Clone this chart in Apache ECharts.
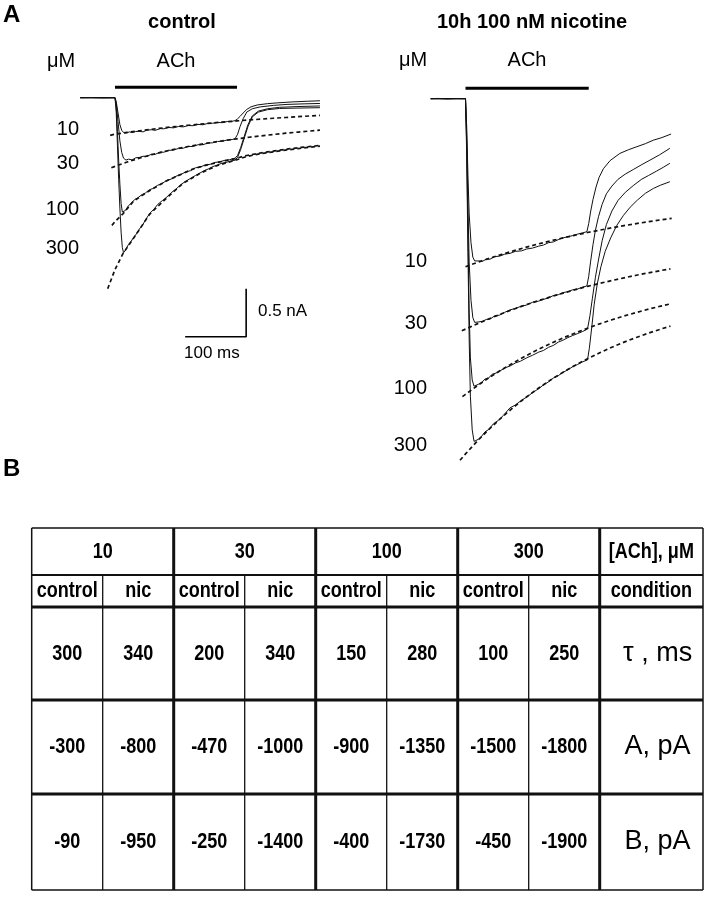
<!DOCTYPE html>
<html><head><meta charset="utf-8">
<script src="https://cdn.jsdelivr.net/npm/echarts@6.0.0/dist/echarts.min.js"></script>
<style>html,body{margin:0;padding:0;background:#fff}#chart{width:711px;height:899px}</style>
</head><body><div id="chart"></div>
<script>
// ---------- Panel A data: time (ms from ACh onset), current (pA) ----------
const achPulse = [[0, 110], [200, 110]];           // ACh application, 200 ms
const scaleBar = [[115, -2490], [215, -2490], [215, -1990]]; // 100 ms / 0.5 nA

const ctlTrace10 = [[-57,0],[-40,2],[-20,-2],[0,0],[2,-40],[5,-160],[8,-280],[11,-340],[14,-362],[18,-368],[24,-356],[28,-364],[34,-352],[40,-350],[46,-356],[52,-338],[60,-334],[66,-340],[74,-322],[80,-324],[88,-310],[96,-314],[104,-300],[112,-304],[120,-290],[128,-292],[136,-278],[144,-282],[152,-268],[160,-266],[168,-258],[176,-260],[184,-248],[192,-246],[197,-238],[201,-220],[205,-195],[210,-160],[216,-122],[223,-95],[233,-76],[250,-62],[266,-54],[290,-44],[315,-37],[336,-32]];
const ctlTrace30 = [[-57,0],[0,0],[2,-60],[5,-250],[8,-450],[11,-570],[14,-630],[18,-650],[22,-640],[28,-648],[34,-626],[40,-622],[46,-610],[52,-612],[60,-588],[66,-590],[74,-566],[80,-568],[88,-548],[96,-546],[104,-528],[112,-526],[120,-508],[128,-508],[136,-490],[144,-490],[152,-472],[160,-470],[168,-456],[176,-454],[184,-440],[192,-436],[197,-426],[201,-380],[205,-300],[210,-220],[216,-150],[225,-115],[238,-96],[260,-80],[282,-70],[310,-64],[336,-60]];
const ctlTrace100 = [[-57,0],[0,0],[2,-100],[4,-350],[6,-650],[8,-900],[10,-1100],[12,-1190],[14,-1205],[17,-1175],[22,-1125],[27,-1098],[32,-1062],[38,-1040],[44,-1010],[50,-992],[56,-960],[62,-946],[70,-912],[77,-895],[85,-860],[92,-848],[100,-818],[108,-800],[116,-772],[124,-760],[132,-730],[140,-722],[148,-700],[156,-694],[164,-674],[172,-668],[180,-652],[188,-646],[197,-630],[201,-600],[206,-520],[212,-400],[218,-280],[225,-190],[235,-140],[250,-115],[270,-100],[300,-92],[336,-86]];
const ctlTrace300 = [[-57,0],[0,0],[2,-150],[4,-500],[6,-850],[8,-1150],[10,-1400],[12,-1560],[14,-1615],[17,-1590],[22,-1530],[26,-1500],[30,-1460],[35,-1420],[40,-1368],[45,-1330],[50,-1272],[57,-1205],[64,-1160],[70,-1112],[78,-1070],[85,-1035],[92,-990],[100,-952],[108,-905],[116,-870],[125,-836],[132,-810],[139,-786],[146,-760],[153,-742],[160,-718],[167,-704],[174,-685],[182,-674],[190,-660],[197,-650],[201,-620],[206,-540],[212,-420],[218,-300],[225,-200],[235,-150],[250,-125],[270,-112],[300,-108],[336,-104]];

const ctlFit10 = [[-8,-392],[0,-380],[20,-362],[40,-345],[60,-329],[80,-314],[100,-300],[120,-287],[140,-275],[160,-263],[180,-252],[200,-242],[220,-232],[240,-223],[260,-214],[280,-206],[300,-198],[320,-190],[336,-184]];
const ctlFit30 = [[-6,-730],[0,-715],[20,-670],[40,-630],[60,-594],[80,-562],[100,-533],[120,-508],[140,-486],[160,-465],[180,-446],[200,-428],[220,-412],[240,-397],[260,-383],[280,-370],[300,-358],[320,-347],[336,-338]];
const ctlFit100 = [[-5,-1330],[0,-1290],[13,-1210],[30,-1080],[46,-1012],[60,-955],[85,-865],[100,-822],[128,-742],[150,-702],[167,-676],[197,-634],[216,-602],[240,-574],[270,-546],[300,-521],[336,-497]];
const ctlFit300 = [[-12,-1990],[0,-1790],[13,-1625],[30,-1468],[57,-1212],[85,-1042],[111,-895],[139,-790],[167,-708],[197,-652],[216,-612],[240,-582],[270,-554],[300,-530],[336,-505]];

const nicTrace10 = [[-57,0],[-45,3],[-30,-3],[-15,2],[0,0],[2,-300],[4,-800],[6,-1200],[9,-1500],[12,-1650],[15,-1690],[18,-1700],[22,-1690],[28,-1694],[34,-1670],[40,-1672],[48,-1645],[56,-1640],[64,-1620],[73,-1611],[82,-1590],[92,-1585],[100,-1566],[110,-1556],[120,-1536],[128,-1524],[136,-1500],[144,-1492],[152,-1468],[160,-1450],[168,-1437],[176,-1426],[184,-1410],[192,-1398],[199,-1385],[202,-1300],[205,-1180],[209,-1050],[214,-920],[219,-820],[226,-730],[237,-645],[253,-570],[267,-532],[281,-500],[295,-468],[308,-432],[322,-405],[337,-368]];
const nicTrace30 = [[-57,0],[0,0],[2,-400],[4,-1100],[6,-1700],[9,-2100],[12,-2280],[15,-2330],[18,-2345],[22,-2325],[28,-2318],[34,-2300],[40,-2296],[48,-2262],[56,-2254],[64,-2226],[73,-2200],[82,-2184],[92,-2160],[100,-2150],[110,-2120],[120,-2108],[128,-2090],[136,-2076],[144,-2050],[152,-2042],[160,-2020],[168,-2010],[176,-1990],[184,-1982],[192,-1962],[199,-1951],[202,-1850],[205,-1700],[209,-1520],[213,-1370],[218,-1230],[224,-1100],[231,-990],[240,-910],[250,-840],[262,-785],[275,-738],[288,-690],[301,-645],[318,-585],[335,-517]];
const nicTrace100 = [[-57,0],[0,0],[2,-500],[4,-1400],[6,-2200],[8,-2700],[11,-2930],[14,-2995],[17,-3000],[21,-2975],[26,-2960],[32,-2920],[38,-2908],[44,-2870],[50,-2858],[58,-2830],[66,-2800],[73,-2785],[82,-2752],[90,-2735],[100,-2700],[110,-2672],[120,-2640],[128,-2622],[136,-2590],[144,-2570],[152,-2536],[160,-2515],[168,-2488],[176,-2466],[184,-2446],[192,-2425],[200,-2400],[204,-2260],[208,-2080],[213,-1860],[218,-1680],[224,-1480],[231,-1310],[240,-1170],[250,-1060],[262,-975],[275,-905],[288,-842],[300,-800],[313,-755],[325,-712],[335,-673]];
const nicTrace300 = [[-57,0],[0,0],[2,-600],[4,-1600],[6,-2500],[8,-3100],[11,-3450],[14,-3570],[17,-3585],[21,-3548],[26,-3520],[32,-3470],[38,-3446],[46,-3385],[54,-3350],[62,-3300],[73,-3220],[82,-3190],[92,-3140],[100,-3110],[110,-3062],[120,-3020],[128,-2980],[136,-2950],[144,-2910],[152,-2885],[160,-2850],[168,-2824],[176,-2790],[184,-2768],[192,-2740],[200,-2722],[203,-2600],[207,-2380],[211,-2140],[216,-1930],[222,-1750],[229,-1590],[238,-1450],[248,-1320],[259,-1215],[270,-1130],[282,-1055],[295,-985],[308,-935],[320,-900],[335,-865]];

const nicFit10 = [[0,-1750],[20,-1704],[40,-1661],[60,-1621],[80,-1582],[100,-1546],[120,-1512],[140,-1480],[160,-1450],[180,-1421],[200,-1394],[220,-1369],[240,-1345],[260,-1322],[280,-1301],[300,-1281],[320,-1262],[338,-1246]];
const nicFit30 = [[-6,-2418],[0,-2400],[20,-2343],[40,-2289],[60,-2238],[80,-2190],[100,-2145],[120,-2103],[140,-2063],[160,-2025],[180,-1989],[200,-1955],[220,-1924],[240,-1894],[260,-1866],[280,-1839],[300,-1814],[320,-1790],[336,-1772]];
const nicFit100 = [[-5,-3104],[0,-3080],[20,-2987],[40,-2900],[60,-2820],[80,-2745],[100,-2675],[120,-2609],[140,-2549],[160,-2492],[180,-2440],[200,-2391],[220,-2345],[240,-2303],[260,-2263],[280,-2227],[300,-2192],[320,-2161],[338,-2134]];
const nicFit300 = [[-9,-3766],[0,-3700],[20,-3562],[40,-3434],[60,-3316],[80,-3207],[100,-3107],[120,-3014],[140,-2928],[160,-2849],[180,-2776],[200,-2709],[220,-2647],[240,-2589],[260,-2536],[280,-2487],[300,-2442],[320,-2400],[336,-2369]];

const concLabels = ['10', '30', '100', '300'];

// ---------- Panel B table data ----------
const concentrations = ['10', '30', '100', '300'];
const conditionLabels = ['control', 'nic'];
const tauControl = [300, 200, 150, 100];
const tauNic = [340, 340, 280, 250];
const aControl = [-300, -470, -900, -1500];
const aNic = [-800, -1000, -1350, -1800];
const bControl = [-90, -250, -400, -450];
const bNic = [-950, -1400, -1730, -1900];
const rowLabels = ['[ACh], μM', 'condition', 'τ , ms', 'A, pA', 'B, pA'];

// ---------- layout ----------
const LABEL_END = 9.455;
const rowEdges = [0, 47, 79, 172, 266, 362];
const SANS = '"Liberation Sans",Arial,Helvetica,sans-serif';

const tableCells = [];
concentrations.forEach((c, i) => tableCells.push([2*i, 2*i+2, rowEdges[0], rowEdges[1], c, 'b']));
tableCells.push([8, LABEL_END, rowEdges[0], rowEdges[1], rowLabels[0], 'b']);
concentrations.forEach((c, i) => conditionLabels.forEach((cl, j) =>
  tableCells.push([2*i+j, 2*i+j+1, rowEdges[1], rowEdges[2], cl, 'b'])));
tableCells.push([8, LABEL_END, rowEdges[1], rowEdges[2], rowLabels[1], 'b']);
[[tauControl, tauNic], [aControl, aNic], [bControl, bNic]].forEach((pair, r) => {
  for (let i = 0; i < 4; i++) {
    tableCells.push([2*i, 2*i+1, rowEdges[r+2], rowEdges[r+3], String(pair[0][i]), 'b']);
    tableCells.push([2*i+1, 2*i+2, rowEdges[r+2], rowEdges[r+3], String(pair[1][i]), 'b']);
  }
  tableCells.push([8, LABEL_END, rowEdges[r+2], rowEdges[r+3], rowLabels[r+2], 'big']);
});

const tableLines = [];
const hw = [1.5, 2, 3, 3, 3, 1.5];
rowEdges.forEach((y, k) => tableLines.push([0, y, LABEL_END, y, hw[k]]));
[[0,1.5],[2,3],[4,3],[6,3],[8,3],[LABEL_END,1.5]].forEach(([x, w]) => tableLines.push([x, 0, x, 362, w]));
[1, 3, 5, 7].forEach(x => tableLines.push([x, rowEdges[1], x, 362, 1.3]));

// ---------- chart ----------
const chart = echarts.init(document.getElementById('chart'), null, {renderer: 'canvas'});
const traceStyle = {color: '#111', width: 1};
const fitStyle = {color: '#111', width: 1.7, type: [4, 3]};
function line(data, xi, style, z) {
  return {type: 'line', xAxisIndex: xi, yAxisIndex: xi, data, symbol: 'none', lineStyle: style,
          silent: true, animation: false, z: z || 2, clip: false};
}
const series = [];
[ctlFit10, ctlFit30, ctlFit100, ctlFit300].forEach(d => series.push(line(d, 0, fitStyle)));
[ctlTrace10, ctlTrace30, ctlTrace100, ctlTrace300].forEach(d => series.push(line(d, 0, traceStyle, 3)));
[nicFit10, nicFit30, nicFit100, nicFit300].forEach(d => series.push(line(d, 1, fitStyle)));
[nicTrace10, nicTrace30, nicTrace100, nicTrace300].forEach(d => series.push(line(d, 1, traceStyle, 3)));
series.push(line(achPulse, 0, {color: '#000', width: 3}));
series.push(line(achPulse.map(p => [p[0] === 0 ? 0 : 202, p[1]]), 1, {color: '#000', width: 3}));
series.push(line(scaleBar, 0, {color: '#000', width: 1.6}));

series.push({
  type: 'custom', xAxisIndex: 2, yAxisIndex: 2, silent: true, animation: false, clip: false,
  data: tableLines.map(l => [l[0], l[1]]),
  renderItem: (params, api) => {
    const l = tableLines[params.dataIndex];
    const a = api.coord([l[0], l[1]]), b = api.coord([l[2], l[3]]);
    return {type: 'line', shape: {x1: a[0], y1: a[1], x2: b[0], y2: b[1]},
            style: {stroke: '#111', lineWidth: l[4]}};
  }
});
series.push({
  type: 'custom', xAxisIndex: 2, yAxisIndex: 2, silent: true, animation: false, clip: false,
  data: tableCells.map(c => [c[0], c[2]]),
  renderItem: (params, api) => {
    const c = tableCells[params.dataIndex];
    const a = api.coord([c[0], c[2]]), b = api.coord([c[1], c[3]]);
    const big = c[5] === 'big';
    return {type: 'text', x: big ? a[0] + (b[0]-a[0])*0.56 : (a[0]+b[0])/2, y: (a[1]+b[1])/2,
            scaleX: big ? 1 : 0.82,
            style: {text: c[4], align: 'center', verticalAlign: 'middle', fill: '#000',
                    font: big ? 'normal 27px ' + SANS : 'bold 22px ' + SANS}};
  }
});

function txt(text, x, y, size, bold, align) {
  return {type: 'text', x, y, silent: true,
          style: {text, fill: '#000', align: align || 'center', verticalAlign: 'middle',
                  font: (bold ? 'bold ' : 'normal ') + size + 'px ' + SANS}};
}
const graphics = [
  txt('A', 3, 15, 24, true, 'left'),
  txt('B', 3, 469, 24, true, 'left'),
  txt('control', 182, 22, 20, true),
  txt('10h 100 nM nicotine', 532, 22, 20, true),
  txt('μM', 61, 61, 20), txt('ACh', 176, 61, 20),
  txt('μM', 413, 60, 20), txt('ACh', 527, 60, 20),
  txt('0.5 nA', 258, 311, 17, false, 'left'),
  txt('100 ms', 184, 353, 17, false, 'left')
];
const ctlLabelY = [129, 163, 209, 248], nicLabelY = [261, 323, 388, 445];
concLabels.forEach((c, i) => {
  graphics.push(txt(c, 79, ctlLabelY[i], 20, false, 'right'));
  graphics.push(txt(c, 427, nicLabelY[i], 20, false, 'right'));
});

const hidden = {show: false};
chart.setOption({
  animation: false,
  backgroundColor: '#fff',
  grid: [
    {left: 78.4, top: 78.5, width: 244, height: 268.8},
    {left: 428.9, top: 79.5, width: 244, height: 403.2},
    {left: 31.7, top: 528, width: 671.3, height: 362}
  ],
  xAxis: [
    {type: 'value', gridIndex: 0, min: -60, max: 340, ...hidden},
    {type: 'value', gridIndex: 1, min: -60, max: 340, ...hidden},
    {type: 'value', gridIndex: 2, min: 0, max: LABEL_END, ...hidden}
  ],
  yAxis: [
    {type: 'value', gridIndex: 0, min: -2600, max: 200, ...hidden},
    {type: 'value', gridIndex: 1, min: -4000, max: 200, ...hidden},
    {type: 'value', gridIndex: 2, min: 0, max: 362, inverse: true, ...hidden}
  ],
  series,
  graphic: graphics
});
</script></body></html>
